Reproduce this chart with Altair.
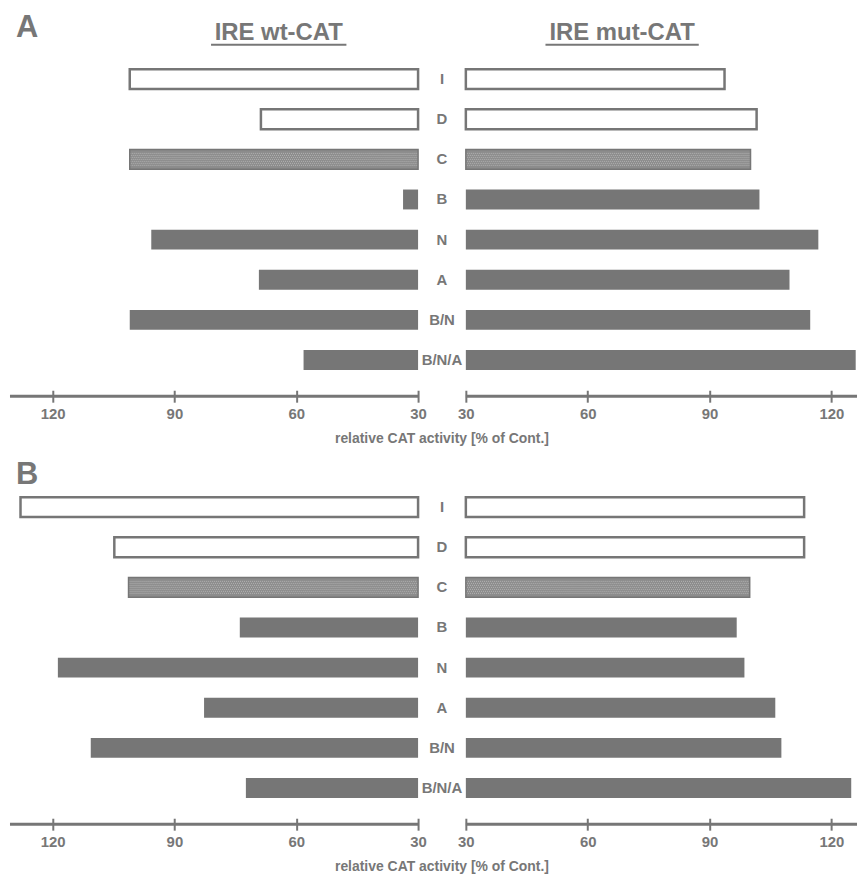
import altair as alt
import pandas as pd

categories = ["I", "D", "C", "B", "N", "A", "B/N", "B/N/A"]
kinds = ["open", "open", "stipple", "solid", "solid", "solid", "solid", "solid"]
a_wt = [101, 68.7, 101, 33.7, 95.7, 69.2, 101, 58.2]
a_mut = [93.7, 101.6, 100.1, 102.3, 116.8, 109.7, 114.8, 126]
b_wt = [127.9, 104.8, 101.3, 73.9, 118.7, 82.7, 110.6, 72.4]
b_mut = [113.3, 113.3, 99.9, 96.7, 98.6, 106.2, 107.7, 124.9]
tick_values = [30, 60, 90, 120]
axis_title = "relative CAT activity [% of Cont.]"

GRAY = "#767676"
STIP = "#8c8c8c"
DOT = "#b4b4b4"
TEXT = "#777777"
FONT = "Liberation Sans"
H = 355
W_L, W_M, W_R = 410, 48, 393
BASE = 30

y_scale = alt.Scale(type="band", domain=categories, paddingInner=0.504, paddingOuter=0.655)


def one(text):
    return alt.Chart(pd.DataFrame({"t": [text]}))


def side(vals, reverse, width, dmax, letter=None, letter_y=-6, col_title=None, col_x=0, col_half=0):
    df = pd.DataFrame({"cat": categories, "val": vals, "kind": kinds})
    xs = alt.Scale(domain=[BASE, dmax], reverse=reverse, nice=False, zero=False)
    x_enc = alt.X("val:Q", scale=xs, axis=alt.Axis(
        values=tick_values, domain=False, grid=False, tickSize=12, tickWidth=2,
        tickColor=GRAY, offset=-6, labelPadding=4, labelFontSize=15,
        labelColor=TEXT, labelFont=FONT, labelFontWeight="bold", title=None,
        labelFlush=False))
    y_enc = alt.Y("cat:N", scale=y_scale, axis=None, sort=categories)
    base = alt.Chart(df)
    open_b = base.transform_filter(alt.datum.kind == "open").mark_bar(
        fill="white", stroke=GRAY, strokeWidth=2.5).encode(x=x_enc, x2=alt.datum(BASE), y=y_enc)
    stip = base.transform_filter(alt.datum.kind == "stipple")
    stip_b = stip.mark_bar(fill=STIP).encode(x=x_enc, x2=alt.datum(BASE), y=y_enc)
    dots = []
    for i, off in enumerate(range(-6, 7, 2)):
        dots.append(stip.mark_rule(
            color=DOT, strokeWidth=1, strokeDash=[1, 1], strokeDashOffset=(i % 2),
            yOffset=off).encode(x=x_enc, x2=alt.datum(BASE), y=y_enc))
    stip_edge = stip.mark_bar(fill=None, fillOpacity=0, stroke=GRAY, strokeWidth=1.5).encode(
        x=x_enc, x2=alt.datum(BASE), y=y_enc)
    solid_b = base.transform_filter(alt.datum.kind == "solid").mark_bar(
        fill=GRAY).encode(x=x_enc, x2=alt.datum(BASE), y=y_enc)
    rule = one("r").mark_rule(color=GRAY, strokeWidth=3).encode(
        x=alt.value(0), x2=alt.value(width), y=alt.value(H))
    layers = [open_b, stip_b] + dots + [stip_edge, solid_b, rule]
    if letter:
        layers.append(one(letter).mark_text(
            align="left", baseline="alphabetic", fontSize=31, fontWeight="bold",
            font=FONT, color=TEXT).encode(x=alt.value(6), y=alt.value(letter_y), text="t:N"))
    if col_title:
        layers.append(one(col_title).mark_text(
            align="center", baseline="alphabetic", fontSize=24, fontWeight="bold",
            font=FONT, color=TEXT).encode(x=alt.value(col_x), y=alt.value(-3), text="t:N"))
        layers.append(one("u").mark_rule(color=TEXT, strokeWidth=2).encode(
            x=alt.value(col_x - col_half), x2=alt.value(col_x + col_half), y=alt.value(2)))
    return alt.layer(*layers).properties(width=width, height=H)


def middle():
    df = pd.DataFrame({"cat": categories})
    labels = alt.Chart(df).mark_text(
        fontSize=15, fontWeight="bold", font=FONT, color=TEXT, baseline="middle").encode(
        y=alt.Y("cat:N", scale=y_scale, axis=None, sort=categories),
        x=alt.value(W_M / 2), text="cat:N")
    title = one(axis_title).mark_text(
        fontSize=14, fontWeight="bold", font=FONT, color=TEXT, baseline="middle").encode(
        x=alt.value(W_M / 2), y=alt.value(H + 43), text="t:N")
    return alt.layer(labels, title).properties(width=W_M, height=H)


dmax_l = BASE + W_L / 4.08
dmax_r = BASE + W_R / 4.08

chart = alt.concat(
    side(a_wt, True, W_L, dmax_l, letter="A", letter_y=-6, col_title="IRE wt-CAT", col_x=270, col_half=68),
    middle(),
    side(a_mut, False, W_R, dmax_r, col_title="IRE mut-CAT", col_x=157, col_half=77),
    side(b_wt, True, W_L, dmax_l, letter="B", letter_y=13),
    middle(),
    side(b_mut, False, W_R, dmax_r),
    columns=3, spacing={"row": 75, "column": 0}, bounds="flush",
).properties(
    padding={"left": 0, "top": 2, "right": 0, "bottom": 0}
).configure_view(stroke=None)

chart.save("out.html", embed_options={"renderer": "svg", "actions": False})
